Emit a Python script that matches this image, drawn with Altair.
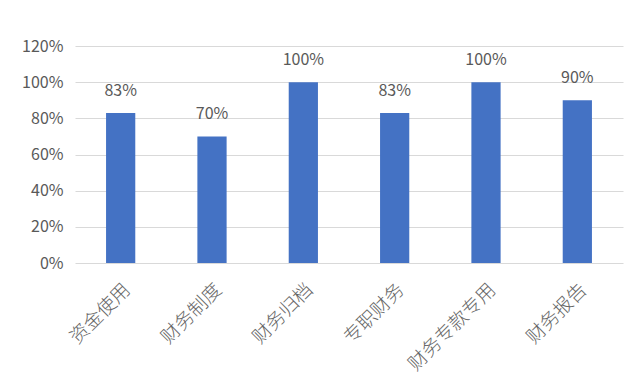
import altair as alt
import pandas as pd

categories = ["资金使用", "财务制度", "财务归档", "专职财务", "财务专款专用", "财务报告"]
values = [0.83, 0.70, 1.00, 0.83, 1.00, 0.90]
labels = ["83%", "70%", "100%", "83%", "100%", "90%"]
y_ticks = [0, 0.2, 0.4, 0.6, 0.8, 1.0, 1.2]

df = pd.DataFrame({"cat": categories, "val": values, "lab": labels})

FONT = "Noto Sans CJK SC"
GREY = "#595959"

x = alt.X("cat:N", sort=categories, title=None,
          scale=alt.Scale(paddingInner=0.68, paddingOuter=0.34),
          axis=alt.Axis(labelAngle=-45, labelFontSize=19, labelColor="#666666",
                        labelFont=FONT, labelFontWeight=300, domain=False,
                        ticks=False, labelPadding=17,
                        labelLimit=300, labelOverlap=False))
y = alt.Y("val:Q", title=None,
          scale=alt.Scale(domain=[0, 1.2], nice=False),
          axis=alt.Axis(values=y_ticks, format=".0%",
                        labelFontSize=16, labelColor=GREY, labelFont=FONT,
                        domain=False, ticks=False, labelPadding=12,
                        labelOverlap=False, labelFlush=False,
                        gridColor="#d9d9d9", gridWidth=1))

base = alt.Chart(df).encode(x=x, y=y)
bars = base.mark_bar(color="#4472C4")
text = base.mark_text(baseline="bottom", dy=-14, fontSize=16,
                      color=GREY, font=FONT).encode(text="lab:N")

chart = (bars + text).properties(
    width=548, height=217,
    autosize=alt.AutoSizeParams(type="none"),
    padding={"left": 67, "top": 38, "right": 1, "bottom": 112},
    background="white",
).configure_view(stroke=None)

chart.save("out.html", embed_options={"renderer": "svg", "actions": False})
